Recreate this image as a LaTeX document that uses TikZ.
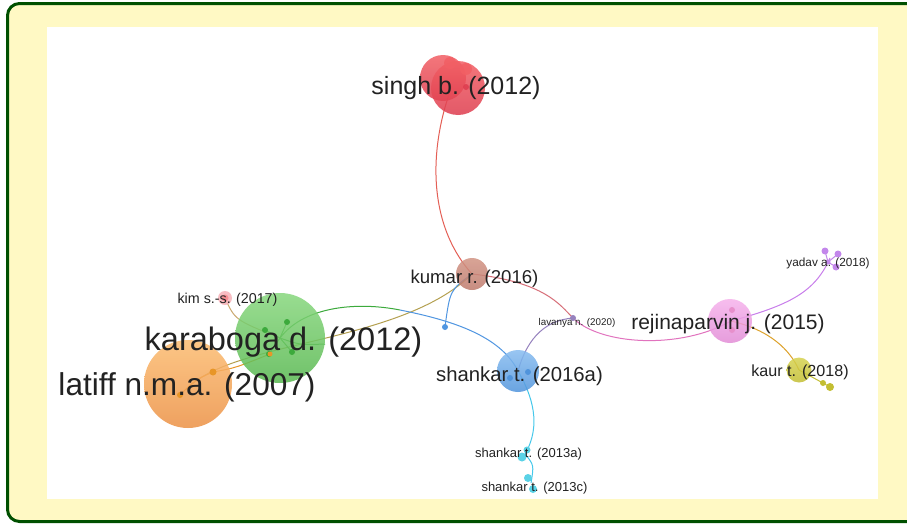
\documentclass[tikz,border=0pt]{standalone}
\usepackage{fontspec}
\setmainfont{Liberation Sans}
\begin{document}
\begin{tikzpicture}[x=1pt,y=-1pt,
  bubble/.style={circle,draw=none,inner sep=0pt,minimum size=#1},
  lbl/.style={text=txt,inner sep=0pt,font=#1},
  edge/.style={line width=1pt,draw=#1},
  dot/.style={circle,inner sep=0pt,minimum size=#1}]
\definecolor{frame}{RGB}{0,80,0}
\definecolor{cream}{RGB}{255,249,196}
\definecolor{txt}{RGB}{34,34,34}
\definecolor{redA}{RGB}{242,95,100}
\definecolor{redB}{RGB}{222,60,78}
\definecolor{redE}{RGB}{228,95,85}
\definecolor{brnA}{RGB}{210,148,132}
\definecolor{brnB}{RGB}{190,122,108}
\definecolor{grnA}{RGB}{135,215,125}
\definecolor{grnB}{RGB}{88,184,80}
\definecolor{grnE}{RGB}{60,170,60}
\definecolor{orgA}{RGB}{252,188,112}
\definecolor{orgB}{RGB}{236,145,68}
\definecolor{orgE}{RGB}{232,150,40}
\definecolor{olvE}{RGB}{180,160,80}
\definecolor{bluA}{RGB}{135,188,240}
\definecolor{bluB}{RGB}{80,148,220}
\definecolor{bluE}{RGB}{80,150,225}
\definecolor{pnkA}{RGB}{246,178,236}
\definecolor{pnkB}{RGB}{226,140,214}
\definecolor{pnkE}{RGB}{225,115,190}
\definecolor{rosE}{RGB}{215,110,120}
\definecolor{purE}{RGB}{200,125,235}
\definecolor{lavE}{RGB}{150,130,190}
\definecolor{yelA}{RGB}{214,210,80}
\definecolor{yelB}{RGB}{195,190,50}
\definecolor{cynE}{RGB}{70,200,235}
\definecolor{cynB}{RGB}{90,210,230}
\definecolor{kimA}{RGB}{246,178,185}
\definecolor{yadB}{RGB}{195,135,235}

\useasboundingbox (0,0) rectangle (907,525);
% outer panel and white plotting area
\begin{scope}
\clip (0,0) rectangle (907,525);
\draw[frame,line width=3pt,fill=cream,rounded corners=12pt] (7.5,3.5) rectangle (940,521.5);
\end{scope}
\fill[white] (47,27) rectangle (878,499);

% cluster anchor points
\coordinate (singhC) at (452,86);
\coordinate (kumarC) at (472,274);
\coordinate (karaC) at (280,338);
\coordinate (latC) at (186,390);
\coordinate (kimC) at (225,298);
\coordinate (shaC) at (518,371);
\coordinate (lavC) at (573,318);
\coordinate (rejC) at (731,321);
\coordinate (yadC) at (830,258);
\coordinate (kaurC) at (799,370);
\coordinate (s13aC) at (525,454);
\coordinate (s13cC) at (531,483);
\coordinate (hub) at (445,327);

% connectors
\draw[edge=redE] (singhC) .. controls (428,150) and (428,225) .. (kumarC);
\draw[edge=rosE] (kumarC) .. controls (545,282) and (560,305) .. (lavC);
\draw[edge=pnkE] (lavC) .. controls (600,345) and (680,350) .. (rejC);
\draw[edge=olvE] (latC) .. controls (230,340) and (400,345) .. (kumarC);
\draw[edge=grnE] (karaC) .. controls (305,305) and (360,302) .. (400,310);
\draw[edge=bluE] (400,310) .. controls (450,320) and (500,335) .. (shaC);
\draw[edge=bluE] (kumarC) .. controls (450,290) .. (hub);
\draw[edge=cynE] (shaC) .. controls (532,395) and (542,425) .. (s13aC);
\draw[edge=cynE] (s13aC) .. controls (534,465) .. (s13cC);
\draw[edge=lavE] (shaC) .. controls (528,335) and (548,320) .. (lavC);
\draw[edge=olvE!70!pink] (kimC) .. controls (235,320) .. (karaC);
\draw[edge=purE] (rejC) .. controls (790,305) and (815,292) .. (yadC);
\draw[edge=orgE!70!yelB] (rejC) .. controls (770,330) and (790,350) .. (kaurC);
\draw[edge=yelB] (kaurC) -- (823,383) -- (830,387);
\draw[edge=orgE] (180,395) .. controls (195,380) .. (213,372) .. controls (235,368) .. (270,354);
\draw[edge=grnE] (karaC) -- (265,330) (karaC) -- (287,322) (karaC) -- (292,352) (karaC) -- (269,354);
\draw[edge=grnE] (karaC) .. controls (300,345) .. (325,344);

% bubbles
\begin{scope}[fill opacity=0.85]
\node[bubble=46pt,top color=redA,bottom color=redB] (singhA) at (443,78) {};
\node[bubble=54pt,top color=redA,bottom color=redB] (singh) at (458,88) {};
\node[bubble=12pt,fill=redA] (singhD1) at (450,63) {};
\node[bubble=12pt,fill=redA] (singhD2) at (466,69) {};
\node[bubble=6pt,fill=redB] (singhD3) at (466,87) {};
\node[bubble=32pt,top color=brnA,bottom color=brnB] (kumar) at (kumarC) {};
\node[bubble=90pt,top color=grnA,bottom color=grnB] (kara) at (karaC) {};
\node[bubble=88pt,top color=orgA,bottom color=orgB] (latiff) at (188,384) {};
\node[bubble=14pt,fill=kimA] (kim) at (kimC) {};
\node[bubble=42pt,top color=bluA,bottom color=bluB] (shankar) at (shaC) {};
\node[bubble=44pt,top color=pnkA,bottom color=pnkB] (rejina) at (730,321) {};
\node[bubble=25pt,top color=yelA,bottom color=yelB] (kaur) at (kaurC) {};
\end{scope}
% small member dots
\foreach \p/\s in {(265,330)/6,(287,322)/6,(292,352)/6,(269,354)/6}
  \node[dot=\s pt,fill=grnE] at \p {};
\foreach \p/\s in {(180,395)/6,(213,372)/7,(270,354)/5}
  \node[dot=\s pt,fill=orgE] at \p {};
\node[dot=6pt,fill=bluE] (hubDot) at (hub) {};
\node[dot=6pt,fill=bluB] at (510,378) {};
\node[dot=6pt,fill=bluB] at (528,372) {};
\node[dot=6pt,fill=pnkE!80] at (732,310) {};
\node[dot=6pt,fill=pnkE!80] at (732,330) {};
\node[dot=6pt,fill=yelB] (kaurD1) at (823,383) {};
\node[dot=8pt,fill=yelB] (kaurD2) at (830,387) {};
\node[dot=7pt,fill=yadB] (yad1) at (825,251) {};
\node[dot=7pt,fill=yadB] (yad2) at (838,254) {};
\node[dot=7pt,fill=yadB] (yad3) at (836,267) {};
\node[dot=5pt,fill=yadB] (yad4) at (828,262) {};
\draw[edge=yadB] (yad4.center) -- (yad1.center) (yad4.center) -- (yad2.center) (yad4.center) -- (yad3.center);
\node[dot=9pt,fill=cynB] (s13a1) at (522,457) {};
\node[dot=7pt,fill=cynB] (s13a2) at (527,450) {};
\node[dot=8pt,fill=cynB] (s13c1) at (528,478) {};
\node[dot=8pt,fill=cynB] (s13c2) at (533,489) {};
\node[dot=7pt,fill=kimA!80!red] at (kimC) {};
\node[dot=6pt,fill=lavE] at (lavC) {};

% labels
\node[lbl=\fontsize{25}{25}\selectfont] (tSingh) at (456,88) {singh b. (2012)};
\node[lbl=\fontsize{18.6}{19}\selectfont] (tKumar) at (474.5,279) {kumar r. (2016)};
\node[lbl=\fontsize{32.5}{33}\selectfont] (tKara) at (283.5,342.5) {karaboga d. (2012)};
\node[lbl=\fontsize{31.6}{32}\selectfont] (tLat) at (187,387.5) {latiff n.m.a. (2007)};
\node[lbl=\fontsize{14.3}{15}\selectfont] (tKim) at (227.5,299.5) {kim s.-s. (2017)};
\node[lbl=\fontsize{20.3}{21}\selectfont] (tSha) at (519.5,376) {shankar t. (2016a)};
\node[lbl=\fontsize{9.8}{10}\selectfont] (tLav) at (577,323) {lavanya n. (2020)};
\node[lbl=\fontsize{21}{22}\selectfont] (tRej) at (728,324) {rejinaparvin j. (2015)};
\node[lbl=\fontsize{11.8}{12}\selectfont] (tYad) at (828,263.5) {yadav a. (2018)};
\node[lbl=\fontsize{16.1}{17}\selectfont] (tKaur) at (800,372) {kaur t. (2018)};
\node[lbl=\fontsize{13}{13}\selectfont] (tS13a) at (528.5,454.5) {shankar t. (2013a)};
\node[lbl=\fontsize{13}{13}\selectfont] (tS13c) at (534.5,488.5) {shankar t. (2013c)};
\end{tikzpicture}
\end{document}
